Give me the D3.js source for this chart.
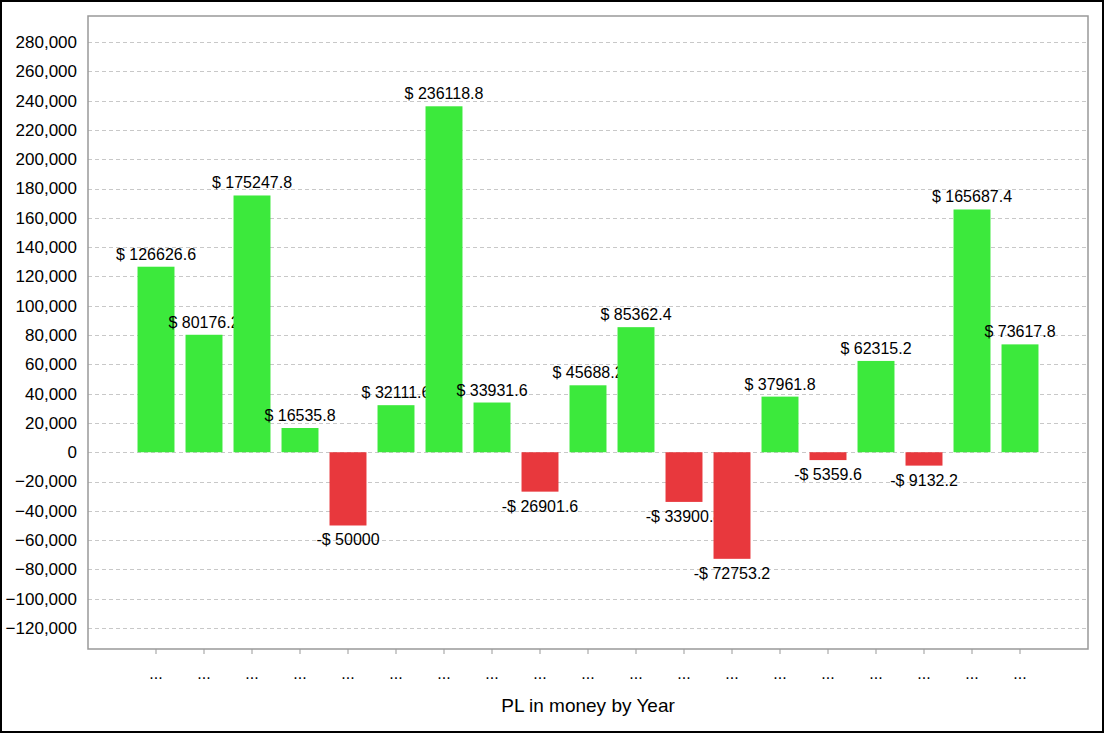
<!DOCTYPE html>
<html>
<head>
<meta charset="utf-8">
<script src="https://cdn.jsdelivr.net/npm/d3@7"></script>
<style>
  body { margin: 0; background: #fff; }
  svg { display: block; font-family: "Liberation Sans", Arial, sans-serif; }
</style>
</head>
<body>
<div id="chart"></div>
<script>
// one bar per year, year names are truncated to "..." in the original
const years = ["...", "...", "...", "...", "...", "...", "...", "...", "...", "...",
  "...", "...", "...", "...", "...", "...", "...", "...", "..."];
const pl = [126626.6, 80176.2, 175247.8, 16535.8, -50000, 32111.6, 236118.8, 33931.6,
  -26901.6, 45688.2, 85362.4, -33900.8, -72753.2, 37961.8, -5359.6, 62315.2,
  -9132.2, 165687.4, 73617.8];
const yTicks = [-120000, -100000, -80000, -60000, -40000, -20000, 0, 20000, 40000,
  60000, 80000, 100000, 120000, 140000, 160000, 180000, 200000, 220000, 240000,
  260000, 280000];
const axisTitle = "PL in money by Year";

const width = 1104;
const height = 733;
const plot = { left: 88, top: 16, right: 1088, bottom: 649 };

const svg = d3
  .select("#chart")
  .append("svg")
  .attr("width", width)
  .attr("height", height);

svg
  .append("rect")
  .attr("x", 1)
  .attr("y", 1)
  .attr("width", width - 2)
  .attr("height", height - 2)
  .attr("fill", "#fff")
  .attr("stroke", "#000")
  .attr("stroke-width", 2);

const data = years.map((y, i) => ({ key: i, year: y, value: pl[i] }));

const x = d3
  .scaleBand()
  .domain(data.map((d) => d.key))
  .range([132, 1044])
  .paddingInner(0.23)
  .paddingOuter(0.115);

const y = d3
  .scaleLinear()
  .domain([-134300, 297750])
  .range([plot.bottom, plot.top]);

// dashed grid
svg
  .append("g")
  .selectAll("line")
  .data(yTicks)
  .enter()
  .append("line")
  .attr("x1", plot.left)
  .attr("x2", plot.right)
  .attr("y1", (d) => Math.round(y(d)) + 0.5)
  .attr("y2", (d) => Math.round(y(d)) + 0.5)
  .attr("stroke", "#c8c8c8")
  .attr("stroke-dasharray", "4,3");

// y axis labels
const yAxis = svg
  .append("g")
  .attr("transform", "translate(" + plot.left + ",0)")
  .call(d3.axisLeft(y).tickValues(yTicks).tickSize(0).tickPadding(11).tickFormat(d3.format(",")));
yAxis.select(".domain").remove();
yAxis.selectAll("text").attr("font-size", 17).attr("fill", "#000").attr("font-family", null);

// x axis ticks and labels
const xAxis = svg
  .append("g")
  .attr("transform", "translate(0," + plot.bottom + ")")
  .call(d3.axisBottom(x).tickSize(5).tickPadding(14).tickFormat((k) => years[k]));
xAxis.select(".domain").remove();
xAxis.selectAll("line").attr("stroke", "#999");
xAxis.selectAll("text").attr("font-size", 16).attr("fill", "#000").attr("font-family", null);

// bars with labels, drawn in order so later bars cover long labels
const bar = svg
  .append("g")
  .selectAll("g")
  .data(data)
  .enter()
  .append("g");

bar
  .append("rect")
  .attr("x", (d) => x(d.key))
  .attr("width", x.bandwidth())
  .attr("y", (d) => y(Math.max(0, d.value)))
  .attr("height", (d) => Math.abs(y(d.value) - y(0)))
  .attr("fill", (d) => (d.value >= 0 ? "#3ce93c" : "#e8383d"));

bar
  .append("text")
  .attr("x", (d) => x(d.key) + x.bandwidth() / 2)
  .attr("y", (d) => (d.value >= 0 ? y(d.value) - 7 : y(d.value) + 20))
  .attr("text-anchor", "middle")
  .attr("font-size", 16)
  .attr("fill", "#000")
  .text((d) => (d.value < 0 ? "-$ " : "$ ") + Math.abs(d.value));

// plot frame
svg
  .append("rect")
  .attr("x", plot.left)
  .attr("y", plot.top)
  .attr("width", plot.right - plot.left)
  .attr("height", plot.bottom - plot.top)
  .attr("fill", "none")
  .attr("stroke", "#999")
  .attr("stroke-width", 1.5);

svg
  .append("text")
  .attr("x", (plot.left + plot.right) / 2)
  .attr("y", 712)
  .attr("text-anchor", "middle")
  .attr("font-size", 19)
  .attr("fill", "#000")
  .text(axisTitle);
</script>
</body>
</html>
